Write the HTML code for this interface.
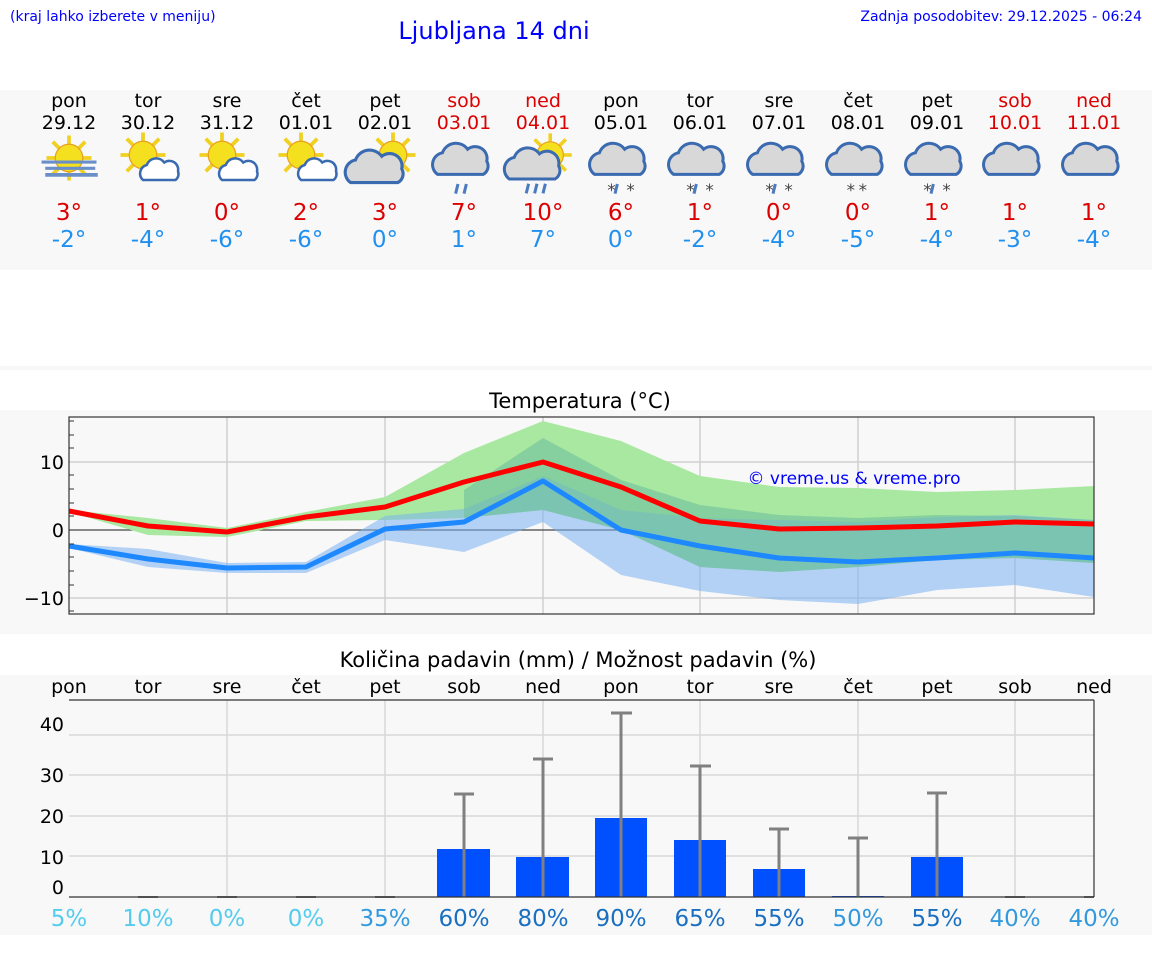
<!DOCTYPE html>
<html><head><meta charset="utf-8"><style>
body{margin:0;width:1152px;height:975px;background:#fff;font-family:"DejaVu Sans","Liberation Sans",sans-serif;position:relative;overflow:hidden}
</style></head><body>
<svg width="1152" height="975" style="position:absolute;left:0;top:0" font-family="DejaVu Sans, Liberation Sans, sans-serif">
<defs>
<g id="sun"><g stroke="#f0d020" stroke-width="3"><line x1="0" y1="-18" x2="0" y2="18"/><line x1="-18" y1="0" x2="18" y2="0"/><line x1="-13" y1="-13" x2="13" y2="13"/><line x1="-13" y1="13" x2="13" y2="-13"/></g><circle r="11" fill="#f5e020" stroke="#e8a020" stroke-width="1"/></g>
<g id="cw"><path d="M-14,8 a7,7 0 0 1 3,-12 a8,8 0 0 1 14,-2 a7,7 0 0 1 11,7 a6,6 0 0 1 -2,7z" fill="#fff" stroke="#3a6ab0" stroke-width="2"/></g>
<g id="cg"><path d="M-22,12 a10,10 0 0 1 4,-18 a12,12 0 0 1 21,-3 a10,10 0 0 1 16,10 a8,8 0 0 1 -3,11z" fill="#d8d8d8" stroke="#3a6ab0" stroke-width="2.5"/></g>
</defs>
<rect x="0" y="90" width="1152" height="180" fill="#f8f8f8"/>
<rect x="0" y="366" width="1152" height="4" fill="#f8f8f8"/>
<rect x="0" y="410" width="1152" height="224" fill="#f8f8f8"/>
<rect x="0" y="675" width="1152" height="260" fill="#f8f8f8"/>
<text x="10" y="21" font-size="14" fill="#0000ff">(kraj lahko izberete v meniju)</text>
<text x="494" y="39" font-size="24" fill="#0000ff" text-anchor="middle">Ljubljana 14 dni</text>
<text x="1142" y="21" font-size="14" fill="#0000ff" text-anchor="end">Zadnja posodobitev: 29.12.2025 - 06:24</text>
<g font-size="19" text-anchor="middle">
<g fill="#000">
<text x="69" y="107">pon</text><text x="148" y="107">tor</text><text x="227" y="107">sre</text><text x="306" y="107">čet</text><text x="385" y="107">pet</text><text x="621" y="107">pon</text><text x="700" y="107">tor</text><text x="779" y="107">sre</text><text x="858" y="107">čet</text><text x="937" y="107">pet</text>
<text x="69" y="129">29.12</text><text x="148" y="129">30.12</text><text x="227" y="129">31.12</text><text x="306" y="129">01.01</text><text x="385" y="129">02.01</text><text x="621" y="129">05.01</text><text x="700" y="129">06.01</text><text x="779" y="129">07.01</text><text x="858" y="129">08.01</text><text x="937" y="129">09.01</text></g>
<g fill="#dd0000"><text x="464" y="107">sob</text><text x="543" y="107">ned</text><text x="1015" y="107">sob</text><text x="1094" y="107">ned</text>
<text x="464" y="129">03.01</text><text x="543" y="129">04.01</text><text x="1015" y="129">10.01</text><text x="1094" y="129">11.01</text></g>
<g font-size="23" fill="#dd0000">
<text x="69" y="220">3°</text><text x="148" y="220">1°</text><text x="227" y="220">0°</text><text x="306" y="220">2°</text><text x="385" y="220">3°</text><text x="464" y="220">7°</text><text x="543" y="220">10°</text><text x="621" y="220">6°</text><text x="700" y="220">1°</text><text x="779" y="220">0°</text><text x="858" y="220">0°</text><text x="937" y="220">1°</text><text x="1015" y="220">1°</text><text x="1094" y="220">1°</text></g>
<g font-size="23" fill="#2090f0">
<text x="69" y="247">-2°</text><text x="148" y="247">-4°</text><text x="227" y="247">-6°</text><text x="306" y="247">-6°</text><text x="385" y="247">0°</text><text x="464" y="247">1°</text><text x="543" y="247">7°</text><text x="621" y="247">0°</text><text x="700" y="247">-2°</text><text x="779" y="247">-4°</text><text x="858" y="247">-5°</text><text x="937" y="247">-4°</text><text x="1015" y="247">-3°</text><text x="1094" y="247">-4°</text></g>
</g>
<g transform="translate(69,158) scale(1.25)"><use href="#sun"/><g fill="#6a8fc8"><rect x="-22" y="2" width="44" height="2.5"/><rect x="-19" y="7" width="40" height="2.5"/><rect x="-19" y="12" width="42" height="3"/></g></g>
<g transform="translate(143,155) scale(1.25)"><use href="#sun"/><use href="#cw" x="14" y="12"/></g>
<g transform="translate(222,155) scale(1.25)"><use href="#sun"/><use href="#cw" x="14" y="12"/></g>
<g transform="translate(301,155) scale(1.25)"><use href="#sun"/><use href="#cw" x="14" y="12"/></g>
<g transform="translate(388,155) scale(1.25)"><use href="#sun" x="4"/><use href="#cg" x="-8" y="10"/></g>
<g transform="translate(464,160) scale(1.2)"><use href="#cg"/><g stroke="#4a7ac0" stroke-width="2.5"><line x1="-5" y1="20" x2="-7" y2="28"/><line x1="2" y1="20" x2="0" y2="28"/></g></g>
<g transform="translate(543,155) scale(1.2)"><use href="#sun" x="6"/><use href="#cg" x="-6" y="8"/><g stroke="#4a7ac0" stroke-width="2.5"><line x1="-12" y1="24" x2="-14" y2="32"/><line x1="-5" y1="24" x2="-7" y2="32"/><line x1="2" y1="24" x2="0" y2="32"/></g></g>
<g font-size="14" fill="#444" text-anchor="middle">
<g transform="translate(621,160) scale(1.2)"><use href="#cg"/><line x1="-3" y1="20" x2="-5" y2="28" stroke="#4a7ac0" stroke-width="2.5"/><text x="-8" y="30">*</text><text x="8" y="30">*</text></g>
<g transform="translate(700,160) scale(1.2)"><use href="#cg"/><line x1="-3" y1="20" x2="-5" y2="28" stroke="#4a7ac0" stroke-width="2.5"/><text x="-8" y="30">*</text><text x="8" y="30">*</text></g>
<g transform="translate(779,160) scale(1.2)"><use href="#cg"/><line x1="-3" y1="20" x2="-5" y2="28" stroke="#4a7ac0" stroke-width="2.5"/><text x="-8" y="30">*</text><text x="8" y="30">*</text></g>
<g transform="translate(858,160) scale(1.2)"><use href="#cg"/><text x="-6" y="30">*</text><text x="4" y="30">*</text></g>
<g transform="translate(937,160) scale(1.2)"><use href="#cg"/><line x1="-3" y1="20" x2="-5" y2="28" stroke="#4a7ac0" stroke-width="2.5"/><text x="-8" y="30">*</text><text x="8" y="30">*</text></g>
</g>
<g transform="translate(1015,160) scale(1.2)"><use href="#cg"/></g>
<g transform="translate(1094,160) scale(1.2)"><use href="#cg"/></g>

<text x="580" y="408" font-size="21" text-anchor="middle" fill="#000">Temperatura (°C)</text>
<rect x="69" y="417" width="1025" height="197" fill="#f8f8f8"/>
<g stroke="#d0d0d0" stroke-width="1.5">
<line x1="227" y1="417" x2="227" y2="614"/><line x1="385" y1="417" x2="385" y2="614"/><line x1="543" y1="417" x2="543" y2="614"/><line x1="700" y1="417" x2="700" y2="614"/><line x1="858" y1="417" x2="858" y2="614"/><line x1="1015" y1="417" x2="1015" y2="614"/>
<line x1="69" y1="462" x2="1094" y2="462"/><line x1="69" y1="598" x2="1094" y2="598"/></g>
<line x1="69" y1="530" x2="1094" y2="530" stroke="#444" stroke-width="1.2"/>
<polygon fill="#a8e8a0" points="69,510 148,518 227,528 306,512 385,497 464,453 543,421 621,441 700,476 779,487 858,488 937,492 1015,490 1094,486 1094,563 1015,558 937,560 858,567 779,572 700,567 621,530 543,510 464,518 385,520 306,521 227,537 148,535 69,512"/>
<polygon fill="#7ab0f0" fill-opacity="0.55" points="69,544 148,549 227,563 306,562 385,516 464,509 543,476 621,510 700,518 779,520 858,522 937,517 1015,515 1094,520 1094,597 1015,585 937,590 858,604 779,600 700,591 621,575 543,522 464,552 385,540 306,573 227,573 148,567 69,548"/>
<polygon fill="#70c0a0" fill-opacity="0.6" points="464,490 543,438 621,480 700,505 779,515 858,518 937,515 1015,516 1094,520 1094,563 1015,558 937,560 858,567 779,572 700,567 621,530 543,510 464,518"/>
<polyline fill="none" stroke="#ff0000" stroke-width="5" stroke-linejoin="round" points="69,511 148,526 227,532 306,517 385,507 464,482 543,462 621,487 700,521 779,529 858,528 937,526 1015,522 1094,524"/>
<polyline fill="none" stroke="#1e88ff" stroke-width="5" stroke-linejoin="round" points="69,546 148,559 227,568 306,567 385,529 464,522 543,481 621,530 700,546 779,558 858,562 937,558 1015,553 1094,558"/>
<rect x="69" y="417" width="1025" height="197" fill="none" stroke="#333" stroke-width="1.2"/>
<g stroke="#333" stroke-width="1"><line x1="69" y1="421" x2="74" y2="421"/><line x1="69" y1="435" x2="74" y2="435"/><line x1="69" y1="448" x2="74" y2="448"/><line x1="69" y1="475" x2="74" y2="475"/><line x1="69" y1="489" x2="74" y2="489"/><line x1="69" y1="503" x2="74" y2="503"/><line x1="69" y1="516" x2="74" y2="516"/><line x1="69" y1="544" x2="74" y2="544"/><line x1="69" y1="557" x2="74" y2="557"/><line x1="69" y1="571" x2="74" y2="571"/><line x1="69" y1="585" x2="74" y2="585"/><line x1="69" y1="611" x2="74" y2="611"/></g>
<g font-size="19" fill="#000" text-anchor="end"><text x="64" y="469">10</text><text x="64" y="537">0</text><text x="64" y="605">−10</text></g>
<text x="854" y="484" font-size="17" fill="#0000ff" text-anchor="middle">© vreme.us &amp; vreme.pro</text>

<text x="578" y="667" font-size="21" text-anchor="middle" fill="#000">Količina padavin (mm) / Možnost padavin (%)</text>
<g font-size="19" fill="#000" text-anchor="middle">
<text x="69" y="693">pon</text><text x="148" y="693">tor</text><text x="227" y="693">sre</text><text x="306" y="693">čet</text><text x="385" y="693">pet</text><text x="464" y="693">sob</text><text x="543" y="693">ned</text><text x="621" y="693">pon</text><text x="700" y="693">tor</text><text x="779" y="693">sre</text><text x="858" y="693">čet</text><text x="937" y="693">pet</text><text x="1015" y="693">sob</text><text x="1094" y="693">ned</text></g>
<g stroke="#d8d8d8" stroke-width="1.5">
<line x1="227" y1="700" x2="227" y2="897"/><line x1="385" y1="700" x2="385" y2="897"/><line x1="543" y1="700" x2="543" y2="897"/><line x1="700" y1="700" x2="700" y2="897"/><line x1="858" y1="700" x2="858" y2="897"/><line x1="1015" y1="700" x2="1015" y2="897"/>
<line x1="69" y1="735" x2="1094" y2="735"/><line x1="69" y1="775" x2="1094" y2="775"/><line x1="69" y1="816" x2="1094" y2="816"/><line x1="69" y1="856" x2="1094" y2="856"/></g>
<g fill="#0050ff"><rect x="437" y="849" width="53" height="48"/><rect x="516" y="857" width="53" height="40"/><rect x="595" y="818" width="52" height="79"/><rect x="674" y="840" width="52" height="57"/><rect x="753" y="869" width="52" height="28"/><rect x="832" y="896" width="52" height="1"/><rect x="911" y="857" width="52" height="40"/></g>
<g stroke="#808080" stroke-width="3"><path d="M464,897V794M454,794H474M543,897V759M533,759H553M621,897V713M611,713H632M700,897V766M690,766H711M779,897V829M769,829H789M858,897V838M848,838H868M937,897V793M927,793H947"/>
<path d="M138,897H158M217,897H237M296,897H316M375,897H395M1005,897H1025M1084,897H1094" stroke-width="2"/></g>
<line x1="69" y1="700" x2="1094" y2="700" stroke="#333" stroke-width="1.2"/>
<line x1="69" y1="897" x2="1094" y2="897" stroke="#333" stroke-width="1.2"/>
<line x1="1094" y1="700" x2="1094" y2="897" stroke="#333" stroke-width="1.2"/>
<g font-size="19" fill="#000" text-anchor="end"><text x="64" y="731">40</text><text x="64" y="782">30</text><text x="64" y="823">20</text><text x="64" y="864">10</text><text x="64" y="894">0</text></g>
<g font-size="23" text-anchor="middle">
<g fill="#55ccee"><text x="69" y="926">5%</text><text x="148" y="926">10%</text><text x="227" y="926">0%</text><text x="306" y="926">0%</text></g>
<g fill="#3399dd"><text x="385" y="926">35%</text><text x="858" y="926">50%</text><text x="1015" y="926">40%</text><text x="1094" y="926">40%</text></g>
<g fill="#1a6fc0"><text x="464" y="926">60%</text><text x="543" y="926">80%</text><text x="621" y="926">90%</text><text x="700" y="926">65%</text><text x="779" y="926">55%</text><text x="937" y="926">55%</text></g>
</g>
</svg>
</body></html>
